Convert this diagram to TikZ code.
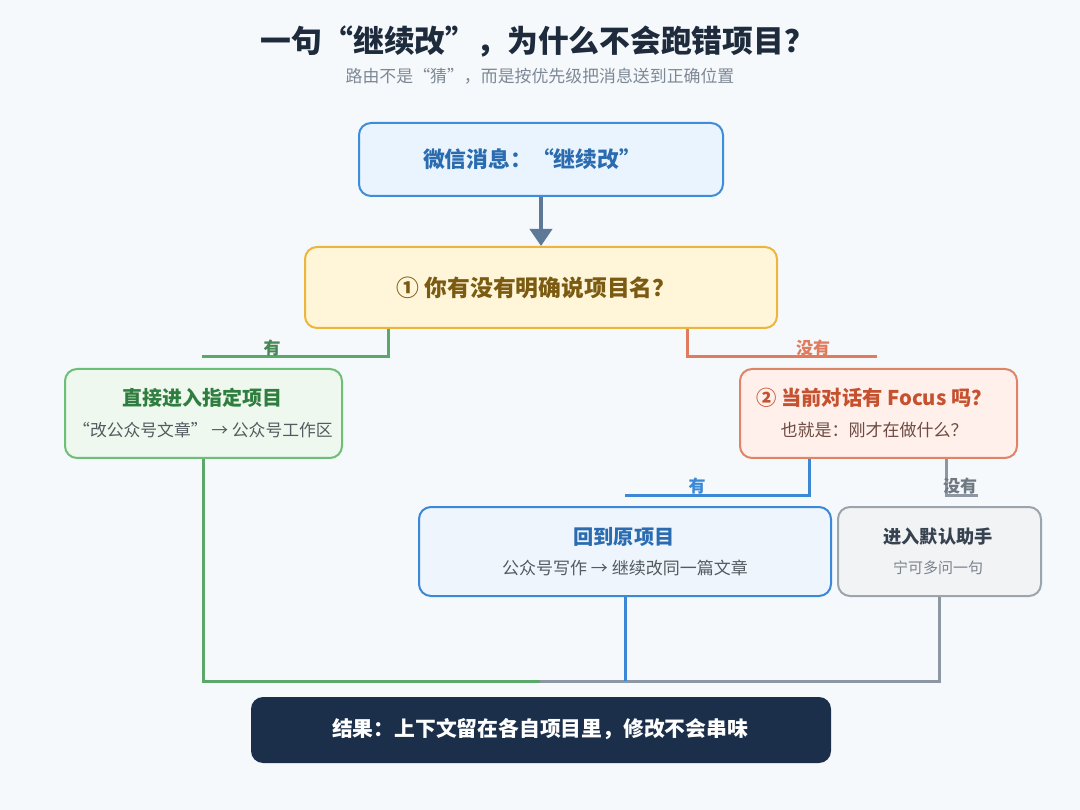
\documentclass[tikz,border=0pt]{standalone}
\usepackage{fontspec}
\setmainfont{Noto Sans CJK SC}
\usetikzlibrary{arrows.meta}
\definecolor{bgc}{HTML}{F6F9FC}
\definecolor{titlec}{HTML}{1E2B3C}
\definecolor{subc}{HTML}{7D8896}
\definecolor{topfill}{HTML}{EAF4FE}
\definecolor{blueb}{HTML}{3D8EDA}
\definecolor{bluet}{HTML}{2B6CB0}
\definecolor{arrowc}{HTML}{5E7897}
\definecolor{qfill}{HTML}{FFF6D9}
\definecolor{qborder}{HTML}{EDB53C}
\definecolor{qtext}{HTML}{7B5A12}
\definecolor{greenl}{HTML}{5BA86B}
\definecolor{greenfill}{HTML}{EEF8EE}
\definecolor{greenb}{HTML}{6DBE77}
\definecolor{greent}{HTML}{2F7D3F}
\definecolor{orangel}{HTML}{E07B5E}
\definecolor{orangefill}{HTML}{FFF0EB}
\definecolor{orangeb}{HTML}{E08468}
\definecolor{oranget}{HTML}{C5512F}
\definecolor{orangesub}{HTML}{6E4A40}
\definecolor{bluel}{HTML}{3A88D6}
\definecolor{bluefill}{HTML}{EEF5FD}
\definecolor{grayl}{HTML}{8C97A3}
\definecolor{grayfill}{HTML}{F2F3F5}
\definecolor{grayb}{HTML}{9CA4AD}
\definecolor{grayt}{HTML}{374250}
\definecolor{graysub}{HTML}{7A838C}
\definecolor{darkt}{HTML}{555A60}
\definecolor{resfill}{HTML}{1B2F4B}
\begin{document}
\begin{tikzpicture}[x=1pt,y=-1pt,
  boxc/.style={rounded corners=12pt,line width=2pt,inner sep=0pt,anchor=north west},
  conn/.style={line width=3pt},
  lbl/.style={font=\fontsize{17}{19}\selectfont\bfseries,inner sep=0pt,anchor=south},
  ttl/.style={font=\bfseries,inner sep=0pt,anchor=center},
  txt/.style={inner sep=0pt,anchor=center}]
\useasboundingbox[fill=bgc] (0,0) rectangle (1080,810);
% title
\node[ttl,text=titlec,font=\fontsize{30.8}{34}\selectfont\bfseries] (title) at (538,42) {一句“继续改”，为什么不会跑错项目？};
\node[txt,text=subc,font=\fontsize{16.9}{19}\selectfont] (subtitle) at (540,76) {路由不是“猜”，而是按优先级把消息送到正确位置};
% boxes
\node[boxc,draw=blueb,fill=topfill,minimum width=364pt,minimum height=73pt] (top) at (358,122) {};
\node[ttl,text=bluet,font=\fontsize{21.8}{24}\selectfont\bfseries] (toptext) at (532,159) {微信消息：“继续改”};
\node[boxc,draw=qborder,fill=qfill,minimum width=472pt,minimum height=81pt] (q1) at (304,246) {};
\node[ttl,text=qtext,font=\fontsize{22.8}{25}\selectfont\bfseries] (q1text) at (536,288) {① 你有没有明确说项目名？};
\node[boxc,draw=greenb,fill=greenfill,minimum width=277pt,minimum height=89pt] (gbox) at (64,368) {};
\node[ttl,text=greent,font=\fontsize{20}{22}\selectfont\bfseries] (gtitle) at (202,398) {直接进入指定项目};
\node[txt,text=darkt,font=\fontsize{16.8}{19}\selectfont] (gsub) at (203,430) {“改公众号文章” → 公众号工作区};
\node[boxc,draw=orangeb,fill=orangefill,minimum width=277pt,minimum height=89pt] (obox) at (739,368) {};
\node[ttl,text=oranget,font=\fontsize{20.3}{22}\selectfont\bfseries] (otitle) at (874,398) {② 当前对话有 Focus 吗？};
\node[txt,text=orangesub,font=\fontsize{17}{19}\selectfont] (osub) at (874,430) {也就是：刚才在做什么？};
\node[boxc,draw=bluel,fill=bluefill,minimum width=412pt,minimum height=89pt] (bbox) at (418,506) {};
\node[ttl,text=bluet,font=\fontsize{20.2}{22}\selectfont\bfseries] (btitle) at (624,537) {回到原项目};
\node[txt,text=darkt,font=\fontsize{17}{19}\selectfont] (bsub) at (625,568) {公众号写作 → 继续改同一篇文章};
\node[boxc,draw=grayb,fill=grayfill,minimum width=203pt,minimum height=89pt] (xbox) at (837,506) {};
\node[ttl,text=grayt,font=\fontsize{18.2}{21}\selectfont\bfseries] (xtitle) at (938,537) {进入默认助手};
\node[txt,text=graysub,font=\fontsize{15}{17}\selectfont] (xsub) at (938,568) {宁可多问一句};
\node[boxc,draw=none,fill=resfill,minimum width=580pt,minimum height=66pt] (res) at (250,696) {};
\node[ttl,text=white,font=\fontsize{20.8}{24}\selectfont\bfseries] (restext) at (540,729) {结果：上下文留在各自项目里，修改不会串味};
% coordinates
\coordinate (gend) at (202,357);
\coordinate (oend) at (877,357);
\coordinate (bend) at (625,495);
\coordinate (xend) at (978,495);
\coordinate (mid) at (540,681);
% connectors
\draw[arrowc,line width=4pt,-{Triangle[width=22pt,length=17pt]}] (top.south) -- (q1.north);
\draw[conn,greenl] ([xshift=84pt]q1.south west) |- (gend);
\draw[conn,orangel] ([xshift=-91pt]q1.south east) |- (oend);
\draw[conn,bluel] ([xshift=70pt]obox.south west) |- (bend);
\draw[conn,grayl] ([xshift=-72pt]obox.south east) |- (xend);
\draw[conn,greenl] (gbox.south) |- (mid);
\draw[conn,grayl] (xbox.south) |- (mid);
\draw[conn,bluel] (bbox.south) -- (bbox.south |- mid);
% labels
\node[lbl,text=greenl!80!black] (l1) at (272,356) {有};
\node[lbl,text=orangel] (l2) at (813,356) {没有};
\node[lbl,text=bluel] (l3) at (697,494) {有};
\node[lbl,text=grayl!80!black] (l4) at (960,494) {没有};
\end{tikzpicture}
\end{document}
